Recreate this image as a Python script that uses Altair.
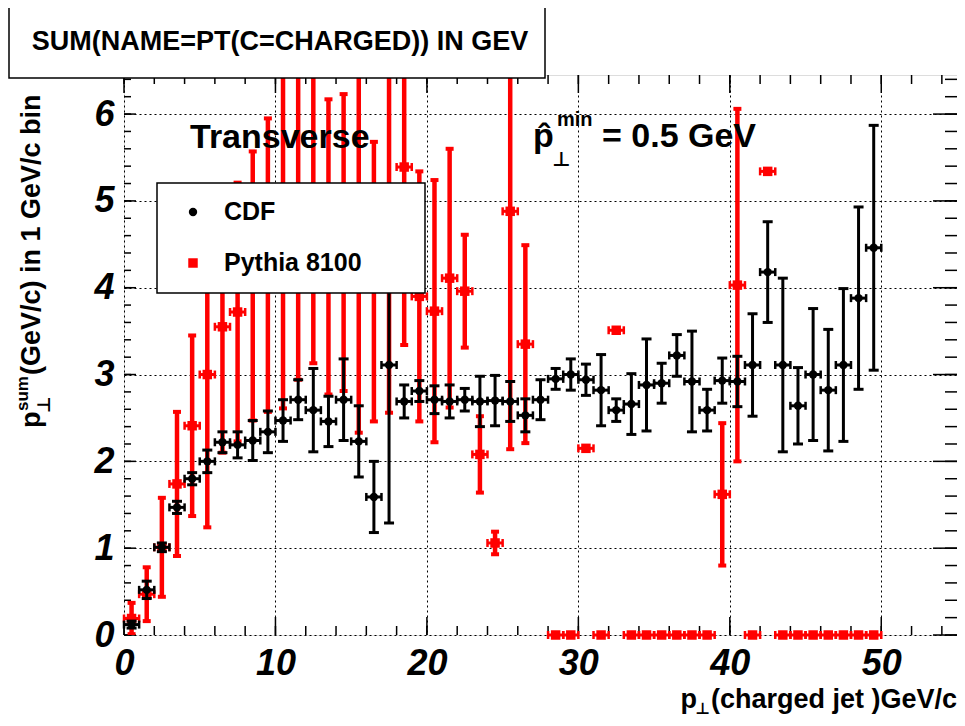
import altair as alt
import pandas as pd

# ---------------- data ----------------
bin_centers = [0.5, 1.5, 2.5, 3.5, 4.5, 5.5, 6.5, 7.5, 8.5, 9.5,
               10.5, 11.5, 12.5, 13.5, 14.5, 15.5, 16.5, 17.5, 18.5, 19.5,
               20.5, 21.5, 22.5, 23.5, 24.5, 25.5, 26.5, 27.5, 28.5, 29.5,
               30.5, 31.5, 32.5, 33.5, 34.5, 35.5, 36.5, 37.5, 38.5, 39.5,
               40.5, 41.5, 42.5, 43.5, 44.5, 45.5, 46.5, 47.5, 48.5, 49.5]
cdf_values = [0.12, 0.52, 1.01, 1.47, 1.80, 2.00, 2.22, 2.19, 2.24, 2.34,
              2.47, 2.71, 2.59, 2.46, 2.71, 2.23, 1.59, 3.11, 2.69, 2.81,
              2.71, 2.69, 2.71, 2.69, 2.70, 2.69, 2.53, 2.71, 2.95, 3.00,
              2.94, 2.82, 2.59, 2.66, 2.88, 2.90, 3.22, 2.92, 2.59, 2.93,
              2.92, 3.11, 4.18, 3.11, 2.64, 3.00, 2.82, 3.11, 3.88, 4.46]
cdf_errors = [0.04, 0.10, 0.05, 0.07, 0.07, 0.13, 0.12, 0.15, 0.23, 0.24,
              0.24, 0.23, 0.48, 0.29, 0.47, 0.41, 0.41, 1.82, 0.19, 0.12,
              0.16, 0.19, 0.13, 0.29, 0.29, 0.23, 0.19, 0.23, 0.12, 0.18,
              0.18, 0.41, 0.13, 0.35, 0.53, 0.23, 0.24, 0.58, 0.24, 0.26,
              0.29, 0.59, 0.58, 1.00, 0.44, 0.76, 0.70, 0.88, 1.05, 1.41]

pythia_centers = [0.5, 1.5, 2.5, 3.5, 4.5, 5.5, 6.5, 7.5, 8.5, 9.5,
                  10.5, 11.5, 12.5, 13.5, 14.5, 15.5, 16.5, 17.5, 18.5, 19.5,
                  20.5, 21.5, 22.5, 23.5, 24.5, 25.5, 26.5, 28.5, 29.5,
                  30.5, 31.5, 32.5, 33.5, 34.5, 35.5, 36.5, 37.5, 38.5, 39.5,
                  40.5, 41.5, 42.5, 43.5, 44.5, 45.5, 46.5, 47.5, 48.5, 49.5]
pythia_values = [0.19, 0.47, 1.01, 1.74, 2.41, 3.00, 3.55, 3.72, 4.02, 4.26,
                 4.70, 4.85, 4.95, 4.47, 4.52, 4.60, 4.07, 4.75, 5.39, 3.90,
                 3.73, 4.11, 3.96, 2.08, 1.06, 4.88, 3.35, 0.0, 0.0,
                 2.15, 0.0, 3.51, 0.0, 0.0, 0.0, 0.0, 0.0, 0.0, 1.62,
                 4.03, 0.0, 5.34, 0.0, 0.0, 0.0, 0.0, 0.0, 0.0, 0.0]
pythia_errors = [0.18, 0.31, 0.57, 0.83, 1.04, 1.76, 1.45, 1.49, 1.55, 1.69,
                 2.09, 1.91, 1.82, 1.70, 1.71, 2.27, 1.61, 2.19, 2.05, 1.44,
                 1.51, 1.49, 0.65, 0.44, 0.13, 2.74, 1.14, 0.0, 0.0,
                 0.0, 0.0, 0.0, 0.0, 0.0, 0.0, 0.0, 0.0, 0.0, 0.82,
                 2.03, 0.0, 0.0, 0.0, 0.0, 0.0, 0.0, 0.0, 0.0, 0.0]
bin_half_width = 0.5

x_major_ticks = [0, 10, 20, 30, 40, 50]
x_minor_ticks = [0, 2, 4, 6, 8, 10, 12, 14, 16, 18, 20, 22, 24, 26, 28, 30,
                 32, 34, 36, 38, 40, 42, 44, 46, 48, 50, 52, 54]
y_major_ticks = [0, 1, 2, 3, 4, 5, 6]
y_minor_ticks = [round(i * 0.2, 1) for i in range(33)]

title_text = "SUM(NAME=PT(C=CHARGED)) IN GEV"
legend_labels = ["CDF", "Pythia 8100"]

# ---------------- layout ----------------
W, H = 833, 560
FONT = "Liberation Sans, Arial, DejaVu Sans"
LABEL_FONT = "Liberation Sans Narrow, Arial Narrow, Liberation Sans, Arial"

X_SCALE = alt.Scale(domain=[0, 55], nice=False, zero=False)
Y_SCALE = alt.Scale(domain=[0, 6.45], nice=False, zero=False)
X_AXIS = alt.Axis(values=x_major_ticks, grid=True, ticks=False, domain=False,
                  labelFont=LABEL_FONT, labelFontSize=36, labelFontWeight="bold",
                  labelFontStyle="italic", labelColor="black", labelPadding=11,
                  labelFlush=False, labelOverlap=False, format="d",
                  gridColor="black", gridDash=[2, 3], gridWidth=1, gridOpacity=1,
                  title=None)
Y_AXIS = alt.Axis(values=y_major_ticks, grid=True, ticks=False, domain=False,
                  labelFont=LABEL_FONT, labelFontSize=36, labelFontWeight="bold",
                  labelFontStyle="italic", labelColor="black", labelPadding=10,
                  labelFlush=False, labelOverlap=False, format="d",
                  gridColor="black", gridDash=[2, 3], gridWidth=1, gridOpacity=1,
                  title=None)


def xq(f):
    return alt.X(f, type="quantitative", scale=X_SCALE, axis=X_AXIS)


def yq(f):
    return alt.Y(f, type="quantitative", scale=Y_SCALE, axis=Y_AXIS)


def frame(xs, ys, es):
    d = pd.DataFrame({"x": xs, "y": ys, "e": es})
    d["lo"] = d["y"] - d["e"]
    d["hi"] = d["y"] + d["e"]
    d["xl"] = d["x"] - bin_half_width
    d["xh"] = d["x"] + bin_half_width
    return d


cdf = frame(bin_centers, cdf_values, cdf_errors)
pyt = frame(pythia_centers, pythia_values, pythia_errors)
pyt_err = pyt[pyt["e"] > 0]


def series_layers(d, d_err, color, vw, hw, capw, caph, pshape, psize):
    L = []
    L.append(alt.Chart(d_err).mark_rule(color=color, strokeWidth=vw, clip=True)
             .encode(x=xq("x"), y=yq("lo"), y2="hi"))
    for f in ["lo", "hi"]:
        L.append(alt.Chart(d_err).mark_tick(color=color, orient="horizontal", size=capw,
                                            thickness=caph, clip=True, opacity=1)
                 .encode(x=xq("x"), y=yq(f)))
    L.append(alt.Chart(d).mark_rule(color=color, strokeWidth=hw)
             .encode(x=xq("xl"), x2="xh", y=yq("y")))
    for f in ["xl", "xh"]:
        L.append(alt.Chart(d).mark_tick(color=color, orient="vertical", size=8,
                                        thickness=2.5, opacity=1)
                 .encode(x=xq(f), y=yq("y")))
    L.append(alt.Chart(d).mark_point(shape=pshape, filled=True, size=psize,
                                     color=color, opacity=1)
             .encode(x=xq("x"), y=yq("y")))
    return L


layers = []


def tick_layer(vals, axis, pos, length):
    d = pd.DataFrame({"v": vals})
    m = alt.Chart(d).mark_rule(color="black", strokeWidth=1.5)
    if axis == "x":
        if pos == "bottom":
            return m.encode(x=xq("v"), y=alt.value(H), y2=alt.value(H - length))
        return m.encode(x=xq("v"), y=alt.value(0), y2=alt.value(length))
    if pos == "left":
        return m.encode(y=yq("v"), x=alt.value(0), x2=alt.value(length))
    return m.encode(y=yq("v"), x=alt.value(W), x2=alt.value(W - length))


layers += [tick_layer(x_minor_ticks, "x", "bottom", 9),
           tick_layer(x_major_ticks, "x", "bottom", 18),
           tick_layer(x_minor_ticks, "x", "top", 9),
           tick_layer(x_major_ticks, "x", "top", 18),
           tick_layer(y_minor_ticks, "y", "left", 7),
           tick_layer(y_major_ticks, "y", "left", 12),
           tick_layer(y_minor_ticks, "y", "right", 12),
           tick_layer(y_major_ticks, "y", "right", 24)]

layers += series_layers(pyt, pyt_err, "#ff0000", 4.5, 3, 8, 4, "square", 90)
layers += series_layers(cdf, cdf, "black", 3, 3, 10, 3, "circle", 70)

one = pd.DataFrame({"a": [0]})


def box(x1, y1, x2, y2, sw=1.5):
    return alt.Chart(one).mark_rect(fill="white", stroke="black", strokeWidth=sw).encode(
        x=alt.value(x1), x2=alt.value(x2), y=alt.value(y1), y2=alt.value(y2))


def txt(s, x, y, size, align="left", baseline="alphabetic", angle=0, weight="bold"):
    kw = dict(text=s, font=FONT, fontSize=size, fontWeight=weight, color="black",
              align=align, baseline=baseline)
    if angle:
        kw["angle"] = angle
    return alt.Chart(one).mark_text(**kw).encode(x=alt.value(x), y=alt.value(y))


# annotations inside the frame
layers += [txt("Transverse", 66, 73, 34),
           txt("p\u0302", 409, 72, 34),
           txt("min", 433, 51, 20),
           txt("\u22a5", 428, 91, 20),
           txt("= 0.5 GeV", 478, 72, 34)]

# legend
layers += [box(33, 108, 301, 218),
           alt.Chart(one).mark_point(shape="circle", filled=True, size=70, color="black",
                                     opacity=1).encode(x=alt.value(69), y=alt.value(137)),
           alt.Chart(one).mark_point(shape="square", filled=True, size=90, color="#ff0000",
                                     opacity=1).encode(x=alt.value(69), y=alt.value(188)),
           txt(legend_labels[0], 100, 137, 25, baseline="middle"),
           txt(legend_labels[1], 100, 188, 25, baseline="middle")]

# title box
layers += [box(-115, -70, 421, 3), txt(title_text, 156, -33, 27, align="center", baseline="middle")]

# y axis title (rotated)
layers += [txt("p", -84, 353, 27, angle=270),
           txt("sum", -96, 336, 17, angle=270),
           txt("\u22a5", -74, 338, 18, angle=270),
           txt("(GeV/c) in 1 GeV/c bin", -84, 300, 27, angle=270)]

# x axis title
layers += [txt("(charged jet )GeV/c", W, 633, 27, align="right"),
           txt("\u22a5", 586, 639, 16, align="right"),
           txt("p", 573, 633, 27, align="right")]

chart = alt.layer(*layers).properties(
    width=W, height=H,
    autosize=alt.AutoSizeParams(type="none"),
    padding={"left": 116, "top": 67, "right": 0, "bottom": 83},
).configure_view(stroke="black", strokeWidth=2).configure(background="white")

chart.save("out.html", embed_options={"renderer": "svg", "actions": False})
